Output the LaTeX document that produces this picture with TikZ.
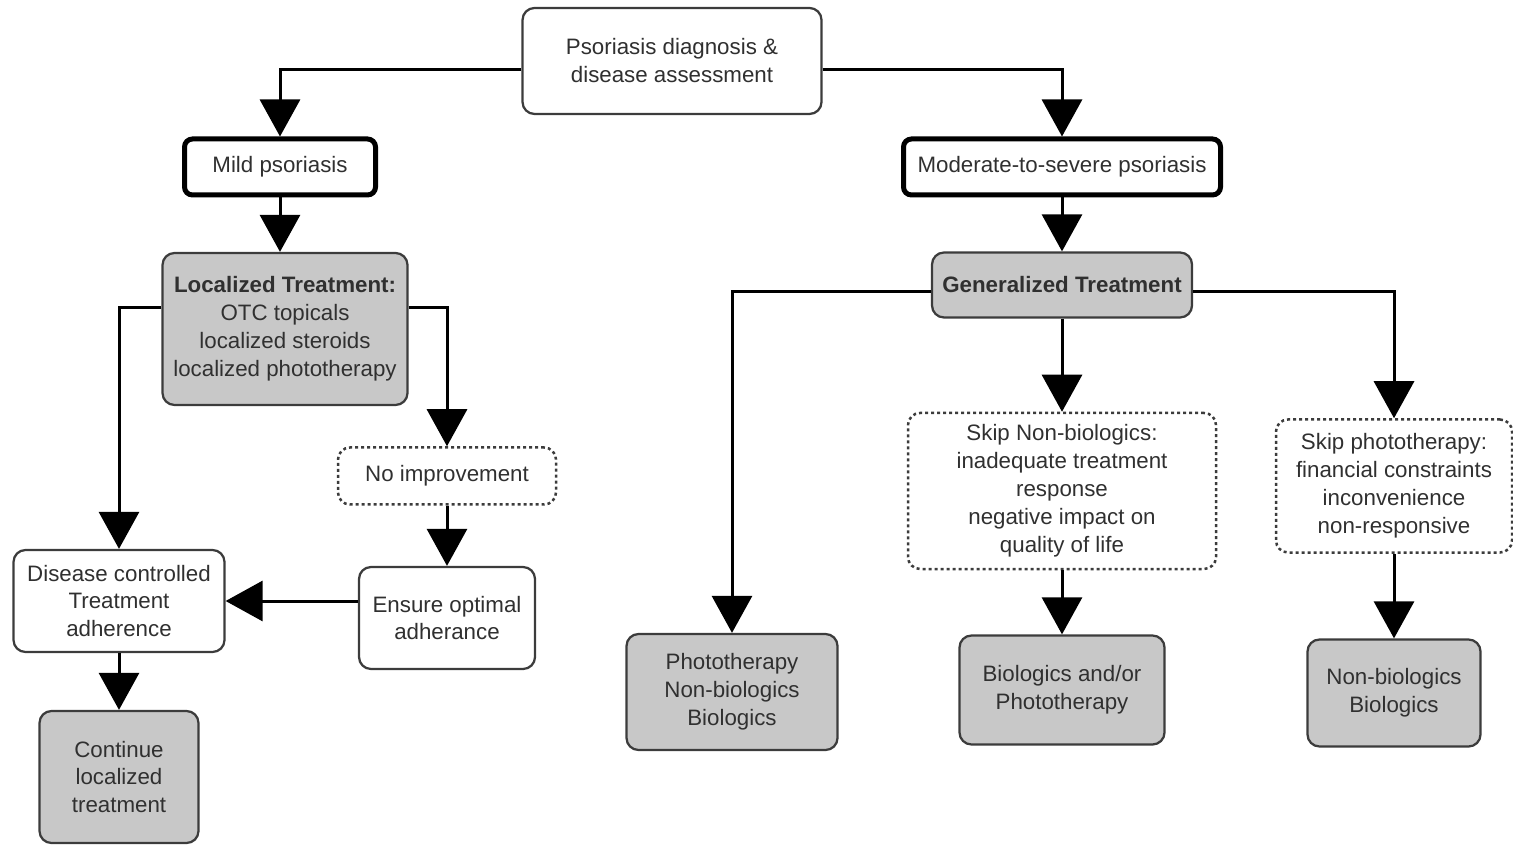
\documentclass[tikz,border=0pt]{standalone}
\usepackage{fontspec}
\setmainfont{Liberation Sans}
\usetikzlibrary{arrows.meta}
\definecolor{boxgray}{HTML}{C8C8C8}
\definecolor{linegray}{HTML}{3C3C3C}
\definecolor{textgray}{HTML}{303030}
\tikzset{stage/.style={draw=linegray,line width=.45mm,rounded corners=2.4mm,align=center,inner sep=1mm,text=textgray,font=\fontsize{12.7}{15.9}\selectfont},plain stage/.style={stage,fill=white},level stage/.style={stage,draw=black,line width=1mm,rounded corners=1.6mm},treat stage/.style={stage,fill=boxgray},reason stage/.style={stage,dash pattern=on .6mm off .6mm,line width=.5mm},flow edge/.style={-{Triangle[length=7.4mm,width=8mm]},draw=black,line width=.6mm}}
\begin{document}
\begin{tikzpicture}[x=.2mm,y=-.2mm]
 \useasboundingbox (0,0) rectangle (1513,846);
 \node[plain stage,minimum width=59.8mm,minimum height=21.2mm] (diag) at (672,61) {Psoriasis diagnosis \&\\disease assessment};
 \node[level stage,minimum width=38.2mm,minimum height=11.2mm] (mild) at (280,167) {Mild psoriasis};
 \node[level stage,minimum width=63.4mm,minimum height=11.2mm] (mod) at (1062,167) {Moderate-to-severe psoriasis};
 \node[treat stage,minimum width=49mm,minimum height=30.4mm] (loc) at (285,329) {\textbf{Localized Treatment:}\\OTC topicals\\localized steroids\\localized phototherapy};
 \node[treat stage,minimum width=52mm,minimum height=13mm] (gen) at (1062,285) {\textbf{Generalized Treatment}};
 \node[reason stage,minimum width=43.6mm,minimum height=11.4mm] (noimp) at (447,476) {No improvement};
 \node[reason stage,minimum width=61.6mm,minimum height=31.2mm] (skipbio) at (1062,491) {Skip Non-biologics:\\inadequate treatment\\response\\negative impact on\\quality of life};
 \node[reason stage,minimum width=47.2mm,minimum height=26.6mm] (skipphoto) at (1394,486) {Skip phototherapy:\\financial constraints\\inconvenience\\non-responsive};
 \node[plain stage,minimum width=42.2mm,minimum height=20.4mm] (dis) at (119,601) {Disease controlled\\Treatment\\adherence};
 \node[plain stage,minimum width=35.2mm,minimum height=20.4mm] (ensure) at (447,618) {Ensure optimal\\adherance};
 \node[treat stage,minimum width=31.8mm,minimum height=26.4mm] (cont) at (119,777) {Continue\\localized\\treatment};
 \node[treat stage,minimum width=42.2mm,minimum height=23.2mm] (photo) at (732,692) {Phototherapy\\Non-biologics\\Biologics};
 \node[treat stage,minimum width=41mm,minimum height=21.8mm] (bio) at (1062,690) {Biologics and/or\\Phototherapy};
 \node[treat stage,minimum width=34.6mm,minimum height=21.4mm] (nonbio) at (1394,693) {Non-biologics\\Biologics};
 % branches
 \draw[flow edge] ([yshift=-1.8mm]diag.west) -| (mild);
 \draw[flow edge] ([yshift=-1.8mm]diag.east) -| (mod);
 \draw[flow edge] ([yshift=4.2mm]loc.west) -| (dis);
 \draw[flow edge] ([yshift=4.2mm]loc.east) -| (noimp);
 \draw[flow edge] ([yshift=-1.4mm]gen.west) -| (photo);
 \draw[flow edge] ([yshift=-1.4mm]gen.east) -| (skipphoto);
 \draw[flow edge] (ensure.west |- dis.east) -- (dis.east);
 \foreach \a/\b in {mild/loc,mod/gen,gen/skipbio,noimp/ensure,dis/cont,skipbio/bio,skipphoto/nonbio}
   \draw[flow edge] (\a) -- (\a |- \b.north);
\end{tikzpicture}
\end{document}
